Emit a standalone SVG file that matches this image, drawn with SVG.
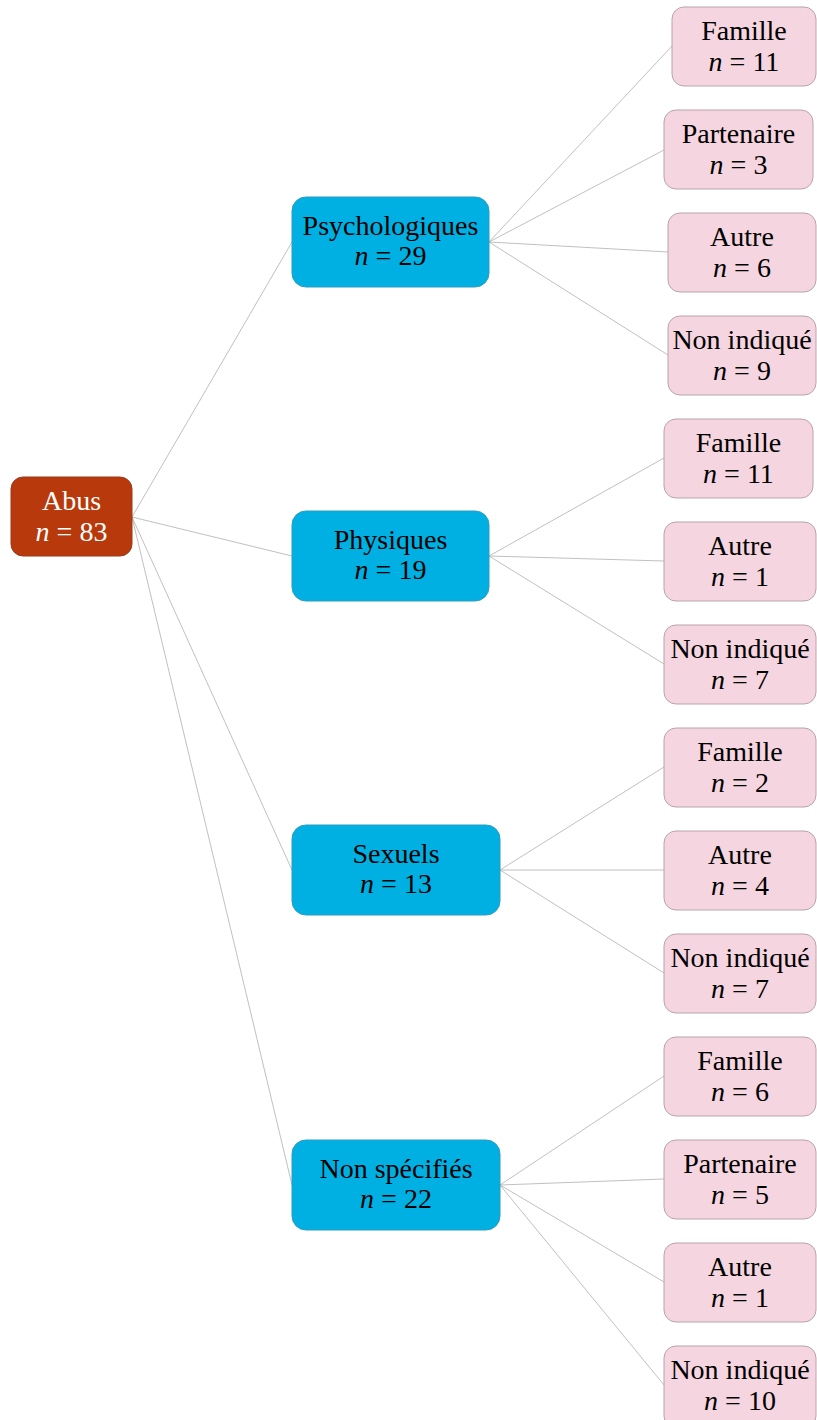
<svg xmlns="http://www.w3.org/2000/svg" width="817" height="1420" viewBox="0 0 817 1420">
<style>
text{font-family:"Liberation Serif","Times New Roman",serif;font-size:28px;text-anchor:middle;fill:#000}
.root rect{fill:#b83a0c;stroke:#9a3a1a;stroke-width:1}
.root text{fill:#fff}
.cat rect{fill:#00b0e2;stroke:#2a9cc0;stroke-width:1}
.leaf rect{fill:#f5d5df;stroke:#b9a4ac;stroke-width:1}
.i{font-style:italic}
#connectors line{stroke:#b0b0b0;stroke-width:0.8}
</style>
<rect width="817" height="1420" fill="#fff"/>
<g id="connectors">
<line x1="132" y1="517" x2="292" y2="242"/>
<line x1="132" y1="517" x2="292" y2="556"/>
<line x1="132" y1="517" x2="292" y2="870"/>
<line x1="132" y1="517" x2="292" y2="1185"/>
<line x1="489" y1="242" x2="672" y2="46"/>
<line x1="489" y1="242" x2="664" y2="150"/>
<line x1="489" y1="242" x2="668" y2="252"/>
<line x1="489" y1="242" x2="668" y2="355"/>
<line x1="489" y1="556" x2="664" y2="458"/>
<line x1="489" y1="556" x2="664" y2="561"/>
<line x1="489" y1="556" x2="664" y2="664"/>
<line x1="500" y1="870" x2="664" y2="767"/>
<line x1="500" y1="870" x2="664" y2="870"/>
<line x1="500" y1="870" x2="664" y2="973"/>
<line x1="500" y1="1185" x2="664" y2="1076"/>
<line x1="500" y1="1185" x2="664" y2="1179"/>
<line x1="500" y1="1185" x2="664" y2="1282"/>
<line x1="500" y1="1185" x2="664" y2="1385"/>
</g>
<g id="abus" class="root"><rect x="11" y="477" width="121" height="79" rx="12"/><text x="71.5" y="510">Abus</text><text x="71.5" y="541"><tspan class="i">n</tspan> = 83</text></g>
<g id="psychologiques" class="cat"><rect x="292" y="197" width="197" height="90" rx="14"/><text x="390.5" y="235">Psychologiques</text><text x="390.5" y="265"><tspan class="i">n</tspan> = 29</text></g>
<g id="physiques" class="cat"><rect x="292" y="511" width="197" height="90" rx="14"/><text x="390.5" y="549">Physiques</text><text x="390.5" y="579"><tspan class="i">n</tspan> = 19</text></g>
<g id="sexuels" class="cat"><rect x="292" y="825" width="208" height="90" rx="14"/><text x="396" y="863">Sexuels</text><text x="396" y="893"><tspan class="i">n</tspan> = 13</text></g>
<g id="nonspecifies" class="cat"><rect x="292" y="1140" width="208" height="90" rx="14"/><text x="396" y="1178">Non spécifiés</text><text x="396" y="1208"><tspan class="i">n</tspan> = 22</text></g>
<g id="psy-famille" class="leaf"><rect x="672" y="7" width="144" height="79" rx="12"/><text x="744" y="40">Famille</text><text x="744" y="71"><tspan class="i">n</tspan> = 11</text></g>
<g id="psy-partenaire" class="leaf"><rect x="664" y="110" width="149" height="79" rx="12"/><text x="738.5" y="143">Partenaire</text><text x="738.5" y="174"><tspan class="i">n</tspan> = 3</text></g>
<g id="psy-autre" class="leaf"><rect x="668" y="213" width="148" height="79" rx="12"/><text x="742" y="246">Autre</text><text x="742" y="277"><tspan class="i">n</tspan> = 6</text></g>
<g id="psy-nonindique" class="leaf"><rect x="668" y="316" width="148" height="79" rx="12"/><text x="742" y="349">Non indiqué</text><text x="742" y="380"><tspan class="i">n</tspan> = 9</text></g>
<g id="phy-famille" class="leaf"><rect x="664" y="419" width="149" height="79" rx="12"/><text x="738.5" y="452">Famille</text><text x="738.5" y="483"><tspan class="i">n</tspan> = 11</text></g>
<g id="phy-autre" class="leaf"><rect x="664" y="522" width="152" height="79" rx="12"/><text x="740" y="555">Autre</text><text x="740" y="586"><tspan class="i">n</tspan> = 1</text></g>
<g id="phy-nonindique" class="leaf"><rect x="664" y="625" width="152" height="79" rx="12"/><text x="740" y="658">Non indiqué</text><text x="740" y="689"><tspan class="i">n</tspan> = 7</text></g>
<g id="sex-famille" class="leaf"><rect x="664" y="728" width="152" height="79" rx="12"/><text x="740" y="761">Famille</text><text x="740" y="792"><tspan class="i">n</tspan> = 2</text></g>
<g id="sex-autre" class="leaf"><rect x="664" y="831" width="152" height="79" rx="12"/><text x="740" y="864">Autre</text><text x="740" y="895"><tspan class="i">n</tspan> = 4</text></g>
<g id="sex-nonindique" class="leaf"><rect x="664" y="934" width="152" height="79" rx="12"/><text x="740" y="967">Non indiqué</text><text x="740" y="998"><tspan class="i">n</tspan> = 7</text></g>
<g id="ns-famille" class="leaf"><rect x="664" y="1037" width="152" height="79" rx="12"/><text x="740" y="1070">Famille</text><text x="740" y="1101"><tspan class="i">n</tspan> = 6</text></g>
<g id="ns-partenaire" class="leaf"><rect x="664" y="1140" width="152" height="79" rx="12"/><text x="740" y="1173">Partenaire</text><text x="740" y="1204"><tspan class="i">n</tspan> = 5</text></g>
<g id="ns-autre" class="leaf"><rect x="664" y="1243" width="152" height="79" rx="12"/><text x="740" y="1276">Autre</text><text x="740" y="1307"><tspan class="i">n</tspan> = 1</text></g>
<g id="ns-nonindique" class="leaf"><rect x="664" y="1346" width="152" height="82" rx="12"/><text x="740" y="1379">Non indiqué</text><text x="740" y="1410"><tspan class="i">n</tspan> = 10</text></g>
</svg>
